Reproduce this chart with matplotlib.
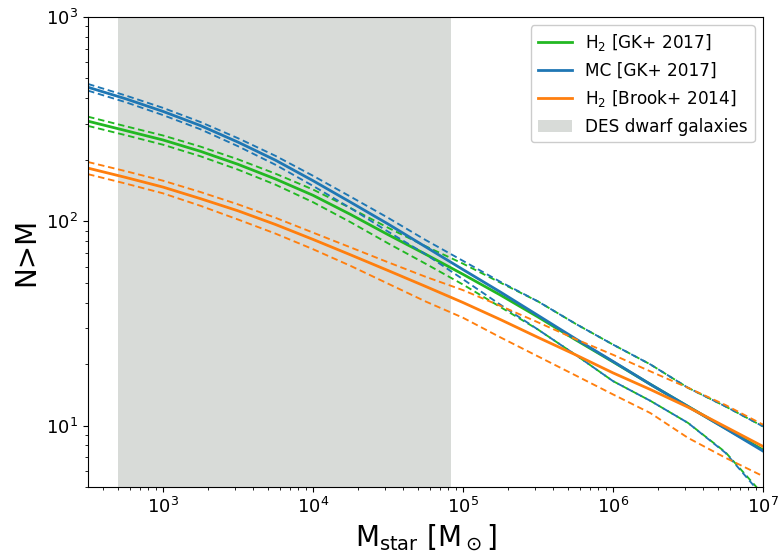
import matplotlib
matplotlib.use("Agg")
import matplotlib.pyplot as plt
import numpy as np

# log10 stellar mass sample points
logm = [2.5, 2.75, 3.0, 3.25, 3.5, 3.75, 4.0, 4.25, 4.5, 4.75, 5.0,
        5.25, 5.5, 5.75, 6.0, 6.25, 6.5, 6.75, 7.0]

h2_gk = [309, 278, 250, 220, 190, 161, 134, 108, 86, 69, 55,
         43.5, 34, 26.3, 20.5, 15.9, 12.4, 9.7, 7.6]
h2_gk_hi = [325, 292, 263, 232, 201, 171, 143, 116, 93, 75.5, 62,
            50, 40.5, 31.5, 24.9, 19.9, 15.3, 12.4, 9.9]
h2_gk_lo = [293, 264, 237, 208, 179, 151, 124, 99, 78, 62, 49,
            38, 29.5, 22.2, 16.5, 13.2, 10.3, 7.4, 4.6]

mc_gk = [453, 398, 345, 294, 244, 199, 158, 124, 97, 75, 58,
         45, 34.6, 26.6, 20.6, 15.9, 12.4, 9.66, 7.5]
mc_gk_hi = [470, 413, 359, 306, 255, 209, 167, 132, 104, 81, 64,
            50.5, 40.5, 31.5, 24.9, 19.9, 15.3, 12.4, 9.9]
mc_gk_lo = [436, 383, 331, 282, 233, 189, 149, 116, 89, 69, 52,
            39, 29.5, 22.2, 16.5, 13.2, 10.3, 7.35, 4.5]

h2_brook = [182, 164, 147, 129, 112.5, 96.4, 81.5, 68.5, 57.4, 48, 40,
            33, 27, 22.2, 18.1, 15.0, 12.3, 9.86, 7.9]
h2_brook_hi = [195, 176, 158, 139, 121, 104, 88, 74.5, 63, 53.5, 46,
               38.5, 32, 26.5, 22.2, 18.4, 15.3, 12.6, 10.1]
h2_brook_lo = [170, 153, 137, 119, 102, 87, 73, 60.5, 49.5, 40.5, 33.7,
               27, 21.8, 17.6, 14.2, 11.5, 8.7, 6.95, 5.65]

des_range = [500, 8.3e4]

labels = [r'H$_2$ [GK+ 2017]', 'MC [GK+ 2017]', r'H$_2$ [Brook+ 2014]', 'DES dwarf galaxies']

c_green = '#22b822'
c_blue = '#1f77b4'
c_orange = '#ff7f0e'

mass = 10 ** np.array(logm)

fig = plt.figure(figsize=(7.78, 5.59), dpi=100)
ax = fig.add_axes([0.1131, 0.1288, 0.8676, 0.8408])

ax.axvspan(des_range[0], des_range[1], color='#d8dbd8', lw=0, label=labels[3], zorder=0)

for mid, hi, lo, c, lab in [(h2_gk, h2_gk_hi, h2_gk_lo, c_green, labels[0]),
                            (mc_gk, mc_gk_hi, mc_gk_lo, c_blue, labels[1]),
                            (h2_brook, h2_brook_hi, h2_brook_lo, c_orange, labels[2])]:
    ax.plot(mass, mid, color=c, lw=2, label=lab)
    ax.plot(mass, hi, color=c, lw=1.35, ls='--', dashes=(3.5, 2))
    ax.plot(mass, lo, color=c, lw=1.35, ls='--', dashes=(3.5, 2))

ax.set_xscale('log')
ax.set_yscale('log')
ax.set_xlim(10 ** 2.5, 1e7)
ax.set_ylim(5, 1000)

ax.set_xlabel(r'M$_{\rm star}$ [M$_\odot$]', fontsize=20)
ax.set_ylabel('N>M', fontsize=20)
ax.tick_params(labelsize=13)

handles, labs = ax.get_legend_handles_labels()
order = [1, 2, 3, 0]
ax.legend([handles[i] for i in order], [labs[i] for i in order],
          loc='upper right', fontsize=12.2, framealpha=1)

fig.savefig('out.png', dpi=100)
